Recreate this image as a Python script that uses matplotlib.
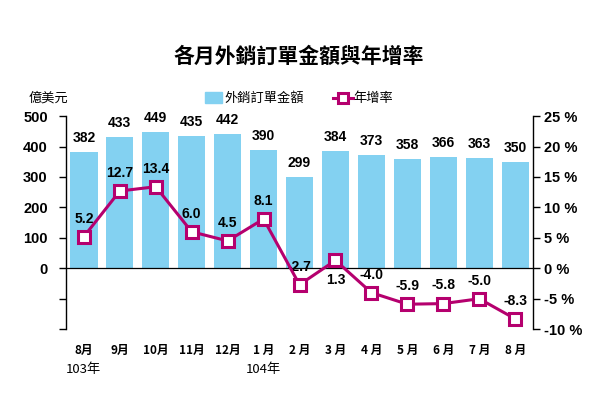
import matplotlib
matplotlib.use("Agg")
import matplotlib.pyplot as plt
import numpy as np
from matplotlib.patches import Rectangle
from matplotlib.lines import Line2D

months = ["8月", "9月", "10月", "11月", "12月", "1 月", "2 月", "3 月", "4 月", "5 月", "6 月", "7 月", "8 月"]
years = {0: "103年", 5: "104年"}
orders = [382, 433, 449, 435, 442, 390, 299, 384, 373, 358, 366, 363, 350]
growth = [5.2, 12.7, 13.4, 6.0, 4.5, 8.1, -2.7, 1.3, -4.0, -5.9, -5.8, -5.0, -8.3]
below_labels = [7]  # growth labels placed under the point

NUM = ["Liberation Sans Narrow", "Liberation Sans", "Noto Sans CJK TC"]
CJK = ["Noto Sans CJK TC", "DejaVu Sans"]

bar_color = "#83D1F1"
line_color = "#B5006E"

fig = plt.figure(figsize=(6.10, 3.99), dpi=100)
ax = fig.add_axes([0.108, 0.175, 0.766, 0.534])
ax2 = ax.twinx()

x = np.arange(len(months))
ax.bar(x, orders, width=0.76, color=bar_color, zorder=2)
ax.set_xlim(-0.5, len(months) - 0.5)
ax.set_ylim(-200, 500)
ax.set_yticks([-200, -100, 0, 100, 200, 300, 400, 500])
ax.set_yticklabels(["", "", "0", "100", "200", "300", "400", "500"])
ax.axhline(0, color="black", lw=0.9, zorder=3)

for xi, v in zip(x, orders):
    ax.annotate(f"{v}", (xi, v), xytext=(0, 5), textcoords="offset points",
                ha="center", va="bottom", fontsize=10, fontweight="bold", family=NUM)

ax2.plot(x, growth, color=line_color, lw=2.2, marker="s", markersize=8,
         markerfacecolor="white", markeredgecolor=line_color, markeredgewidth=2.2, zorder=5)
ax2.set_ylim(-10, 25)
ax2.set_yticks(np.arange(-10, 26, 5))
ax2.set_yticklabels([f"{t} %" for t in np.arange(-10, 26, 5)])

for i, (xi, v) in enumerate(zip(x, growth)):
    if i in below_labels:
        ax2.annotate(f"{v:.1f}", (xi, v), xytext=(0, -9), textcoords="offset points",
                     ha="center", va="top", fontsize=10, fontweight="bold", family=NUM)
    else:
        ax2.annotate(f"{v:.1f}", (xi, v), xytext=(0, 8), textcoords="offset points",
                     ha="center", va="bottom", fontsize=10, fontweight="bold", family=NUM)

for a in (ax, ax2):
    a.spines["top"].set_visible(False)
    a.spines["bottom"].set_visible(False)
    a.spines["left"].set_linewidth(1.0)
    a.spines["right"].set_linewidth(1.0)

ax2.spines["left"].set_visible(False)
ax.spines["right"].set_visible(False)

ax.tick_params(axis="y", direction="out", length=5, width=1, labelsize=10.5, pad=8)
ax2.tick_params(axis="y", direction="out", length=5, width=1, labelsize=10.5, pad=3)
for lab in ax.get_yticklabels() + ax2.get_yticklabels():
    lab.set_fontweight("bold")
    lab.set_family(NUM)

ax.set_xticks(x)
ax.set_xticklabels(months, family=CJK, fontsize=8.5, fontweight="bold")
ax.tick_params(axis="x", length=0, pad=11)
for i, yl in years.items():
    ax.annotate(yl, (x[i], 0), xycoords=("data", "axes fraction"), xytext=(0, -24.5),
                textcoords="offset points", ha="center", va="top", fontsize=9.5, family=CJK)

fig.text(0.49, 0.858, "各月外銷訂單金額與年增率", ha="center", va="center",
         fontsize=15, fontweight="bold", family=CJK)
fig.text(0.047, 0.754, "億美元", ha="left", va="center", fontsize=9.5, family=CJK)

# legend
fig.patches.append(Rectangle((0.336, 0.742), 0.028, 0.028, transform=fig.transFigure,
                             color=bar_color, figure=fig))
fig.text(0.368, 0.754, "外銷訂單金額", ha="left", va="center", fontsize=9.5, family=CJK)
fig.lines.append(Line2D([0.546, 0.578], [0.754, 0.754], transform=fig.transFigure, color=line_color,
                        lw=2.2, figure=fig))
fig.lines.append(Line2D([0.562], [0.754], transform=fig.transFigure, color=line_color, marker="s",
                        markersize=7, markerfacecolor="white", markeredgewidth=2.2, figure=fig))
fig.text(0.58, 0.754, "年增率", ha="left", va="center", fontsize=9.5, family=CJK)

fig.savefig("out.png", dpi=100)
